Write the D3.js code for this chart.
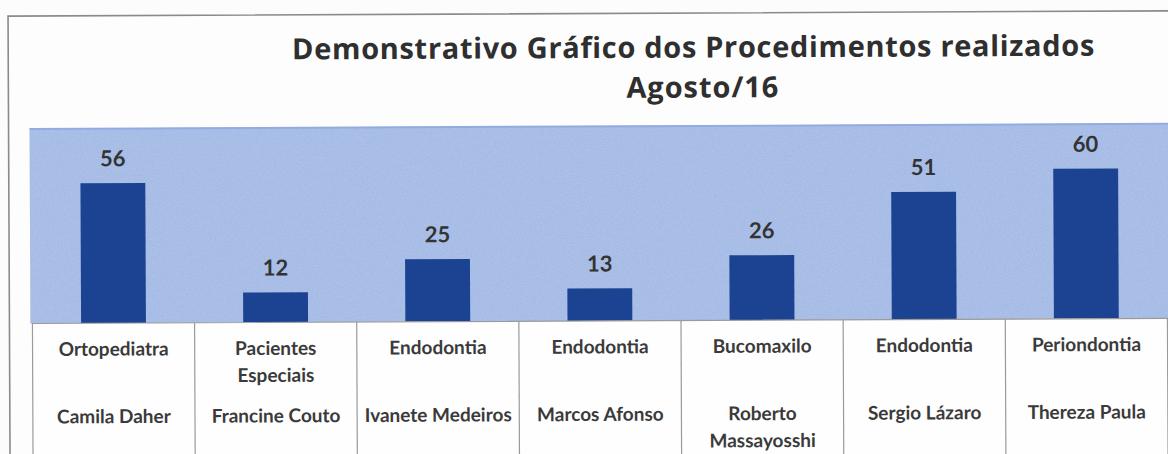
<!DOCTYPE html>
<html>
<head>
<meta charset="utf-8">
<script src="https://cdn.jsdelivr.net/npm/d3@7"></script>
<style>
  html, body { margin: 0; padding: 0; background: #fcfcfd; }
  svg { display: block; }
</style>
</head>
<body>
<svg id="chart" width="1168" height="454"></svg>
<script>
// Procedures per professional, August 2016
const specialties = ["Ortopediatra", "Pacientes Especiais", "Endodontia", "Endodontia", "Bucomaxilo", "Endodontia", "Periondontia"];
const professionals = ["Camila Daher", "Francine Couto", "Ivanete Medeiros", "Marcos Afonso", "Roberto Massayosshi", "Sergio Lázaro", "Thereza Paula"];
const procedures = [56, 12, 25, 13, 26, 51, 60];
const titleLines = ["Demonstrativo Gráfico dos Procedimentos realizados", "Agosto/16"];

// Line breaks used inside the table cells
const specialtyLines = [["Ortopediatra"], ["Pacientes", "Especiais"], ["Endodontia"], ["Endodontia"], ["Bucomaxilo"], ["Endodontia"], ["Periondontia"]];
const professionalLines = [["Camila Daher"], ["Francine Couto"], ["Ivanete Medeiros"], ["Marcos Afonso"], ["Roberto", "Massayosshi"], ["Sergio Lázaro"], ["Thereza Paula"]];

const W = 1168, H = 454;
const svg = d3.select("#chart");

const defs = svg.append("defs");
const grain = defs.append("filter").attr("id", "grain")
  .attr("x", 0).attr("y", 0).attr("width", "100%").attr("height", "100%");
grain.append("feTurbulence").attr("type", "fractalNoise")
  .attr("baseFrequency", 0.9).attr("numOctaves", 2).attr("seed", 3).attr("result", "noise");
grain.append("feColorMatrix").attr("in", "noise").attr("type", "matrix")
  .attr("values", "0 0 0 0 0.25  0 0 0 0 0.3  0 0 0 0 0.5  0 0 0 -1.6 1.0");

// Slightly tilted page
const root = svg.append("g").attr("transform", "rotate(-0.26 584 227)");

// Layout
const plotTop = 126, baseY = 321, tableLeft = 32, tableRight = 1167;

const xBand = d3.scaleBand().domain(d3.range(procedures.length))
  .range([tableLeft, tableRight]).padding(0);
const xBar = d3.scaleBand().domain(d3.range(procedures.length))
  .range([tableLeft, tableRight]).paddingInner(0.6).paddingOuter(0.3);
const y = d3.scaleLinear().domain([0, 78]).range([baseY, plotTop]);

// Outer chart frame
root.append("rect").attr("x", 9).attr("y", 13.5).attr("width", W + 20).attr("height", H + 20)
  .attr("fill", "#fdfdfe").attr("stroke", "#8a8a8a").attr("stroke-width", 1.6);

// Title: two centred lines, spaced to the title width
const titleFont = "'Open Sans', Lato, sans-serif";
const titleSpecs = [
  { text: titleLines[0], cx: 694, y: 58, width: 803 },
  { text: titleLines[1], cx: 703, y: 98, width: 153 }
];
titleSpecs.forEach(s => {
  const t = root.append("text")
    .attr("x", s.cx).attr("y", s.y)
    .attr("text-anchor", "middle")
    .attr("font-family", titleFont)
    .attr("font-weight", "bold")
    .attr("font-size", 29)
    .attr("fill", "#2f2f2f")
    .text(s.text);
  const w = t.node().getComputedTextLength();
  const n = s.text.length;
  const ls = (s.width - w) / n;
  t.attr("letter-spacing", ls).attr("x", s.cx + ls / 2);
});

// Plot area background
root.append("rect").attr("x", 30).attr("y", plotTop).attr("width", W - 10).attr("height", baseY - plotTop)
  .attr("fill", "#abc1ea");
root.append("rect").attr("x", 30).attr("y", plotTop).attr("width", W - 10).attr("height", baseY - plotTop)
  .attr("filter", "url(#grain)").attr("opacity", 0.35);
root.append("line").attr("x1", 30).attr("x2", W + 10).attr("y1", plotTop + 0.5).attr("y2", plotTop + 0.5)
  .attr("stroke", "#93acdf").attr("stroke-width", 2);

// Bars
root.append("g").selectAll("rect").data(procedures).join("rect")
  .attr("x", (d, i) => xBar(i))
  .attr("width", xBar.bandwidth())
  .attr("y", d => y(d))
  .attr("height", d => y(0) - y(d))
  .attr("fill", "#1c4392");

// Value labels
root.append("g").selectAll("text").data(procedures).join("text")
  .attr("x", (d, i) => xBar(i) + xBar.bandwidth() / 2)
  .attr("y", d => y(d) - 17)
  .attr("text-anchor", "middle")
  .attr("font-family", "Lato, 'Open Sans', sans-serif")
  .attr("font-weight", "bold")
  .attr("font-size", 22)
  .attr("fill", "#333")
  .text(d => d);

// Data table below the plot
const table = root.append("g");
table.append("rect").attr("x", tableLeft).attr("y", baseY).attr("width", tableRight - tableLeft).attr("height", H)
  .attr("fill", "#fefefe").attr("stroke", "#9a9a9a").attr("stroke-width", 1.2);
table.selectAll("line.sep").data(d3.range(1, procedures.length)).join("line")
  .attr("class", "sep")
  .attr("x1", i => xBand(i)).attr("x2", i => xBand(i))
  .attr("y1", baseY).attr("y2", H + 20)
  .attr("stroke", "#9a9a9a").attr("stroke-width", 1.2);

const cellFont = { family: "Lato, 'Open Sans', sans-serif", size: 19, fill: "#3a3a3a" };
function cellText(linesArr, firstBaseline) {
  table.append("g").selectAll("text").data(linesArr).join("text")
    .attr("text-anchor", "middle")
    .attr("font-family", cellFont.family)
    .attr("font-weight", "bold")
    .attr("font-size", cellFont.size)
    .attr("fill", cellFont.fill)
    .each(function (lines, i) {
      const t = d3.select(this);
      lines.forEach((s, k) => {
        t.append("tspan")
          .attr("x", xBand(i) + xBand.bandwidth() / 2)
          .attr("y", firstBaseline + k * 27)
          .text(s);
      });
    });
}
cellText(specialtyLines, 353.5);
cellText(professionalLines, 421);
</script>
</body>
</html>
